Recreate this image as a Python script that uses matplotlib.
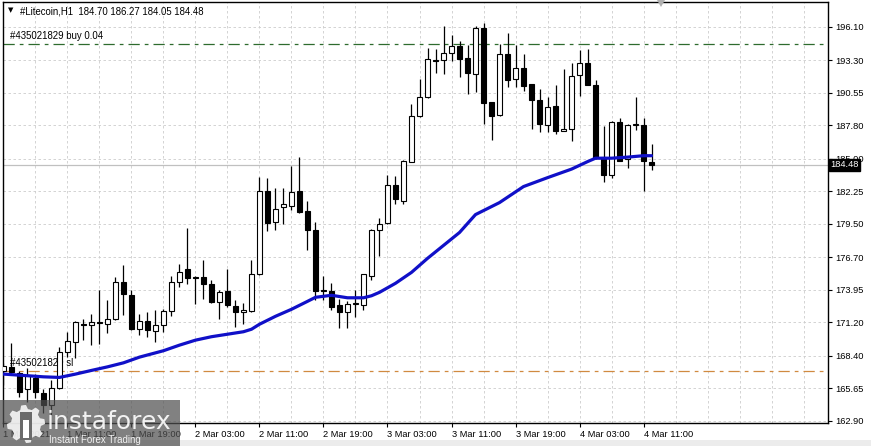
import numpy as np
import matplotlib

matplotlib.use("Agg")
import matplotlib.pyplot as plt
import matplotlib.transforms as mtransforms
from matplotlib.patches import Rectangle, Polygon

plt.rcParams.update({"font.family": ["Liberation Sans", "DejaVu Sans"],
                     "font.size": 6.7})

# H1 candles, 1 Mar 03:00 .. 4 Mar 12:00
opens = [167.10, 167.44, 166.96, 165.56, 166.51, 165.28, 164.24, 165.65, 168.72, 169.56,
         171.10, 170.97, 171.22, 171.11, 171.47, 174.60, 173.49, 170.69, 171.33, 170.49,
         170.97, 172.17, 174.60, 175.73, 175.05, 175.03, 174.47, 172.92, 173.85, 172.59,
         172.08, 172.17, 175.25, 182.31, 179.64, 180.91, 181.05, 182.25, 180.57, 178.95,
         173.90, 173.85, 172.65, 172.08, 172.76, 172.65, 175.08, 179.00, 179.56, 182.79,
         181.47, 184.75, 188.61, 190.16, 193.35, 193.33, 193.89, 194.50, 193.44, 192.12,
         196.04, 189.74, 188.68, 193.81, 191.71, 192.68, 191.28, 189.94, 187.86, 189.46,
         187.36, 187.50, 192.07, 193.05, 191.23, 185.10, 183.66, 188.13, 184.97, 187.86,
         187.86, 184.70]
highs = [167.80, 169.45, 167.10, 167.35, 166.85, 165.56, 166.34, 169.14, 170.40, 171.30,
         171.53, 171.95, 173.91, 173.07, 175.03, 176.01, 173.91, 171.95, 172.08, 172.29,
         172.30, 175.08, 176.15, 179.18, 175.10, 176.49, 174.75, 173.97, 175.67, 173.07,
         172.84, 176.49, 183.49, 183.38, 182.54, 182.54, 184.41, 185.11, 181.41, 179.64,
         175.08, 174.52, 173.21, 173.00, 173.91, 175.30, 179.05, 180.03, 183.66, 183.52,
         184.90, 189.60, 191.70, 194.36, 194.23, 196.18, 195.40, 194.92, 194.56, 196.18,
         196.41, 189.80, 194.65, 195.62, 194.56, 193.81, 191.30, 190.86, 190.16, 191.23,
         192.55, 193.10, 194.14, 194.23, 191.62, 187.77, 188.19, 188.40, 187.90, 190.16,
         188.41, 186.27]
lows = [165.90, 166.90, 164.90, 164.52, 164.85, 163.57, 163.40, 165.60, 168.30, 168.17,
        169.71, 169.29, 169.35, 170.32, 171.40, 171.81, 170.60, 170.13, 169.98, 169.56,
        170.40, 171.75, 174.18, 174.47, 172.79, 173.21, 172.84, 171.53, 172.50, 170.84,
        171.11, 172.10, 175.20, 178.87, 178.95, 179.46, 180.69, 180.40, 177.33, 173.07,
        173.07, 172.29, 170.77, 170.77, 171.66, 172.29, 174.75, 176.76, 179.50, 181.19,
        181.19, 184.70, 188.55, 190.10, 192.26, 192.12, 193.24, 191.84, 190.44, 190.58,
        187.92, 186.60, 188.60, 191.00, 191.00, 190.66, 187.50, 187.22, 187.22, 187.08,
        187.30, 186.45, 190.30, 191.20, 185.00, 183.01, 183.38, 184.77, 184.22, 187.41,
        182.28, 184.05]
closes = [167.50, 167.02, 165.36, 166.76, 165.36, 164.24, 165.65, 168.72, 169.65, 171.24,
          171.02, 171.24, 171.15, 171.53, 174.60, 173.57, 170.69, 171.33, 170.55, 170.97,
          172.17, 174.60, 175.45, 174.97, 174.98, 174.41, 172.92, 173.76, 172.71, 172.08,
          172.29, 175.31, 182.25, 179.56, 180.77, 181.19, 182.17, 180.49, 178.95, 173.85,
          173.82, 172.50, 172.08, 172.79, 172.84, 175.25, 179.00, 179.50, 182.82, 181.61,
          184.83, 188.61, 190.16, 193.39, 193.25, 193.89, 194.50, 193.39, 192.21, 196.04,
          189.69, 188.61, 193.81, 191.65, 192.68, 191.14, 189.94, 187.92, 189.38, 187.36,
          187.50, 191.98, 193.10, 191.23, 185.06, 183.66, 188.05, 184.83, 187.86, 187.90,
          184.77, 184.48]

# moving average, read at these bar indices
ma_idx = [0, 2, 5, 7, 9, 11, 13, 15, 17, 20, 22, 24, 26, 28, 30, 31, 32, 34, 36, 38,
          39, 41, 43, 45, 46, 47, 49, 51, 53, 55, 57, 59, 62, 65, 68, 71, 73, 74, 76, 78,
          80, 81]
ma_val = [166.85, 166.76, 166.62, 166.57, 166.85, 167.16, 167.46, 167.80, 168.28, 168.82,
          169.29, 169.71, 170.00, 170.21, 170.42, 170.63, 171.05, 171.72, 172.31, 172.98,
          173.32, 173.49, 173.28, 173.28, 173.45, 173.74, 174.50, 175.42, 176.60, 177.69,
          178.78, 180.29, 181.30, 182.65, 183.40, 184.12, 184.75, 185.04, 185.04, 185.13,
          185.25, 185.25]

yticks = [196.10, 193.30, 190.55, 187.80, 185.00, 182.25, 179.50, 176.70, 173.95,
          171.20, 168.40, 165.65, 162.90]
xlabels = ["1 Mar 2021", "1 Mar 11:00", "1 Mar 19:00", "2 Mar 03:00", "2 Mar 11:00",
           "2 Mar 19:00", "3 Mar 03:00", "3 Mar 11:00", "3 Mar 19:00", "4 Mar 03:00",
           "4 Mar 11:00"]
title = "#Litecoin,H1  184.70 186.27 184.05 184.48"
buy_label, buy_price = "#435021829 buy 0.04", 194.66
sl_label, sl_price = "#435021829 sl", 167.10
last_price = 184.48

W, H = 871, 446
fig = plt.figure(figsize=(W / 100, H / 100), dpi=100)
fig.patch.set_facecolor("white")
ax = fig.add_axes([3 / W, (H - 423) / H, 825 / W, 421 / H])

o = np.array(opens); c = np.array(closes)
hi = np.array(highs); lo = np.array(lows)
x = np.arange(len(o))

grid_kw = dict(color="#cccccc", lw=0.6, ls=(0, (3, 3)), zorder=0)
for v in np.arange(0, 104, 4):
    ax.axvline(v, **grid_kw)
for v in yticks:
    ax.axhline(v, **grid_kw)

ax.axhline(last_price, color="#c0c0c0", lw=0.9, zorder=1)
ax.axhline(buy_price, color="#2e6b2e", lw=0.9, ls=(0, (9, 4, 3, 4)), zorder=1)
ax.axhline(sl_price, color="#d08a40", lw=0.9, ls=(0, (9, 4, 3, 4)), zorder=1)

ax.vlines(x, lo, hi, color="black", lw=0.9, zorder=2)
up = c >= o
body = np.maximum(np.abs(c - o), 0.06)
ax.bar(x[up], body[up], bottom=np.minimum(o, c)[up], width=0.62,
       facecolor="white", edgecolor="black", lw=0.8, zorder=3)
ax.bar(x[~up], body[~up], bottom=np.minimum(o, c)[~up], width=0.62,
       facecolor="black", edgecolor="black", lw=0.8, zorder=3)

ax.plot(ma_idx, ma_val, color="#1010c8", lw=2.3, solid_capstyle="round", zorder=4)

ax.set_xlim(-0.06, 103.06)
ax.set_ylim(162.73, 198.20)

ax.yaxis.tick_right()
ax.set_yticks(yticks)
ax.set_yticklabels([f"{v:.2f}" for v in yticks])
ax.tick_params(axis="y", length=3, pad=2, width=0.8)
ax.set_xticks(np.arange(0, 88, 8))
ax.set_xticklabels(xlabels)
for t in ax.get_xticklabels():
    t.set_horizontalalignment("left")
ax.tick_params(axis="x", length=3, pad=2, width=0.8)
for s in ax.spines.values():
    s.set_linewidth(1.0)

trans = mtransforms.blended_transform_factory(ax.transAxes, ax.transData)
ax.text(1.003, last_price, f"{last_price:.2f}", transform=trans, color="white",
        va="center", ha="left", fontsize=6.7, zorder=6,
        bbox=dict(boxstyle="square,pad=0.15", fc="black", ec="black"))

ax.text(0.006, 0.987, "\u25bc", transform=ax.transAxes, fontsize=5, va="top",
        family="DejaVu Sans")
ax.text(0.021, 0.99, title, transform=ax.transAxes, va="top", fontsize=6.9)
ax.text(0.009, buy_price + 0.25, buy_label, transform=trans, va="bottom", fontsize=6.9)
ax.text(0.009, sl_price + 0.25, sl_label, transform=trans, va="bottom", fontsize=6.9,
        zorder=1)

fig.patches.append(Polygon([[657 / W, 1.0], [665 / W, 1.0], [661 / W, (H - 7) / H]],
                           closed=True, transform=fig.transFigure, fc="#b0b0b0",
                           ec="none"))
fig.patches.append(Rectangle((0, 0), 1, 6 / H, transform=fig.transFigure,
                             fc="#ececec", ec="none"))

# instaforex watermark
fig.patches.append(Rectangle((0, 0), 180 / W, 46 / H, transform=fig.transFigure,
                             fc="#505050", ec="none", alpha=0.72, zorder=10))
ang = np.linspace(0, 2 * np.pi, 49)[:-1]
rad = np.where((np.arange(48) // 3) % 2 == 0, 19, 15)
gear = np.column_stack([(26 + rad * np.cos(ang)) / W, (22 + rad * np.sin(ang)) / H])
fig.patches.append(Polygon(gear, closed=True, transform=fig.transFigure,
                           fc="white", ec="none", alpha=0.85, zorder=11))
fig.patches.append(Rectangle((20 / W, 6 / H), 12 / W, 28 / H, transform=fig.transFigure,
                             fc="#6a6a6a", ec="none", zorder=12))
fig.patches.append(Rectangle((23 / W, 8 / H), 6 / W, 18 / H, transform=fig.transFigure,
                             fc="white", ec="none", zorder=13))
fig.text(47 / W, 17 / H, "instaforex", color="white", fontsize=18, alpha=0.9,
         family="DejaVu Sans", zorder=14)
fig.text(49 / W, 3 / H, "Instant Forex Trading", color="white", fontsize=7,
         alpha=0.9, zorder=14)

fig.savefig("out.png", dpi=100)
